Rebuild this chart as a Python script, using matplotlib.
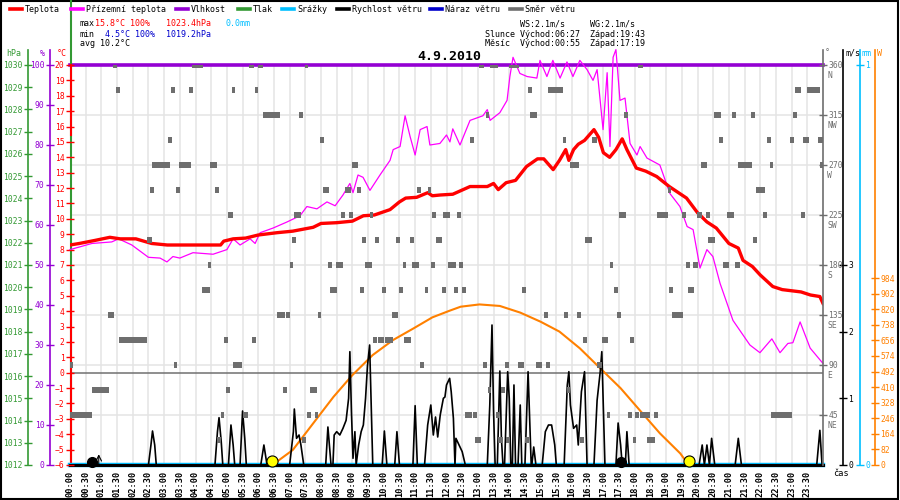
import numpy as np
import matplotlib
matplotlib.use("Agg")
import matplotlib.pyplot as plt
from matplotlib.lines import Line2D
from matplotlib.patches import Rectangle

MONO = "DejaVu Sans Mono"
plt.rcParams["font.family"] = MONO

date_label = "4.9.2010"

# teplota (°C)
temp_hours = [0.0, 0.3, 0.8, 1.27, 1.6, 2.1, 2.6, 3.1, 4.0, 4.8,
              4.9, 5.2, 5.6, 6.0, 6.6, 7.1, 7.75, 8.0, 8.5, 9.0,
              9.35, 9.7, 10.2, 10.5, 10.7, 11.05, 11.4, 11.55, 11.8, 12.2,
              12.75, 13.3, 13.5, 13.65, 13.9, 14.2, 14.55, 14.9, 15.1, 15.4,
              15.6, 15.8, 15.9, 16.05, 16.2, 16.4, 16.7, 16.85, 17.0, 17.2,
              17.4, 17.6, 17.75, 18.05, 18.35, 18.7, 19.1, 19.65, 20.0, 20.3,
              20.6, 21.0, 21.3, 21.45, 21.75, 22.0, 22.4, 22.7, 23.3, 23.6, 23.9, 24.0]
temp_c = [8.3, 8.4, 8.6, 8.8, 8.7, 8.7, 8.4, 8.3, 8.3, 8.3,
          8.55, 8.7, 8.75, 8.95, 9.1, 9.2, 9.45, 9.7, 9.75, 9.85,
          10.2, 10.25, 10.6, 11.1, 11.35, 11.4, 11.7, 11.5, 11.55, 11.6,
          12.1, 12.1, 12.3, 11.9, 12.35, 12.5, 13.4, 13.9, 13.9, 13.2,
          13.8, 14.5, 13.8, 14.5, 14.85, 15.1, 15.8, 15.3, 14.3, 14.0,
          14.5, 15.2, 14.5, 13.3, 13.1, 12.75, 12.1, 11.35, 10.4, 9.8,
          9.4, 8.4, 8.1, 7.3, 6.9, 6.35, 5.6, 5.4, 5.25, 5.05, 4.95, 4.5]

# přízemní teplota (°C)
ground_hours = [0.0, 0.7, 1.33, 1.55, 1.97, 2.5, 2.87, 3.09, 3.28, 3.5,
                3.92, 4.56, 5.0, 5.2, 5.42, 5.74, 5.9, 6.06, 6.47, 6.92,
                7.33, 7.55, 7.87, 8.19, 8.45, 8.7, 8.92, 9.02, 9.18, 9.34,
                9.56, 9.88, 10.2, 10.3, 10.52, 10.68, 10.84, 11.0, 11.16, 11.38,
                11.47, 11.79, 12.0, 12.11, 12.2, 12.43, 12.75, 13.16, 13.3, 13.39,
                13.7, 13.93, 14.02, 14.12, 14.34, 14.57, 14.88, 14.98, 15.2, 15.39,
                15.62, 15.84, 16.03, 16.25, 16.48, 16.67, 16.8, 16.99, 17.12, 17.21,
                17.31, 17.4, 17.53, 17.69, 17.85, 18.07, 18.17, 18.39, 18.8, 19.12,
                19.44, 19.67, 19.86, 20.08, 20.3, 20.49, 20.72, 21.13, 21.67, 21.99,
                22.37, 22.63, 22.88, 23.04, 23.27, 23.59, 24.0]
ground_c = [8.0, 8.4, 8.5, 8.7, 8.3, 7.5, 7.45, 7.2, 7.55, 7.45,
            7.8, 7.7, 8.0, 8.7, 8.3, 8.7, 8.4, 9.1, 9.4, 9.8,
            10.2, 10.8, 10.65, 11.1, 10.85, 11.55, 12.3, 11.7, 12.85, 12.7,
            11.85, 12.85, 13.8, 14.5, 14.7, 16.7, 15.35, 14.15, 15.8, 16.0,
            14.8, 14.9, 15.45, 15.0, 15.85, 14.8, 16.4, 16.7, 17.1, 16.4,
            16.9, 17.7, 19.25, 20.5, 19.45, 19.25, 19.15, 20.3, 19.25, 20.3,
            19.15, 20.2, 19.25, 20.3, 19.7, 19.0, 19.7, 15.8, 19.5, 14.7,
            20.5, 21.0, 17.7, 17.85, 14.9, 14.15, 14.7, 13.95, 13.5, 11.65,
            10.8, 9.5, 9.3, 6.8, 8.0, 7.55, 5.8, 3.4, 1.8, 1.3,
            2.2, 1.3, 1.9, 1.95, 3.3, 1.6, 0.6]

# vlhkost (%) a srážky (mm)
humidity_hours = [0.0, 24.0]
humidity_pct = [100, 100]
rain_hours = [0.0, 24.0]
rain_mm = [0.0, 0.0]

# rychlost větru (m/s)
wind_hours = [
    0.0, 2.50, 2.58, 2.63, 2.70, 2.75,
    4.62, 4.70, 4.75, 4.82, 4.87,
    5.05, 5.13, 5.20, 5.25,
    5.42, 5.50, 5.57, 5.62,
    6.08, 6.18, 6.28,
    7.00, 7.12, 7.15, 7.22, 7.30, 7.36, 7.45,
    8.15, 8.22, 8.32, 8.38, 8.42, 8.50, 8.60, 8.70, 8.80, 8.88, 8.92, 8.97,
    9.02, 9.08, 9.12, 9.20, 9.28, 9.35, 9.42, 9.48, 9.55, 9.60, 9.65,
    9.95, 10.02, 10.10,
    10.35, 10.42, 10.50,
    10.93, 11.00, 11.07,
    11.30, 11.40, 11.50, 11.58, 11.65, 11.72, 11.80, 11.90, 11.95,
    12.00, 12.10, 12.15, 12.22, 12.27, 12.30, 12.40, 12.50, 12.60,
    13.30, 13.38, 13.45, 13.50, 13.55,
    13.62, 13.70, 13.75, 13.80,
    13.85, 13.95, 14.00, 14.05,
    14.10, 14.15, 14.20,
    14.28, 14.35, 14.40,
    14.50, 14.60, 14.70,
    14.72, 14.78, 14.85,
    15.05, 15.15, 15.25, 15.35, 15.45, 15.50,
    15.75, 15.85, 15.90, 15.95, 16.05, 16.15, 16.20, 16.30, 16.40, 16.48,
    16.70, 16.80, 16.90, 16.95, 17.05,
    17.40, 17.47, 17.55, 17.60,
    17.70, 17.75, 17.82,
    20.05, 20.15, 20.22, 20.30, 20.38, 20.45, 20.55,
    21.20, 21.30, 21.40,
    23.80, 23.90, 23.97]
wind_ms = [
    0, 0, 0.30, 0.51, 0.30, 0,
    0, 0.50, 0.71, 0.35, 0,
    0, 0.60, 0.30, 0,
    0, 0.81, 0.40, 0,
    0, 0.30, 0,
    0, 0.50, 0.84, 0.40, 0.45, 0.30, 0,
    0, 0.57, 0, 0, 0.45, 0.50, 0.45, 0.55, 0.67, 1.00, 1.70, 0.80,
    0.10, 0.50, 0, 0.30, 0.50, 0.60, 1.00, 1.48, 1.80, 0.90, 0,
    0, 0.51, 0,
    0, 0.50, 0,
    0, 0.89, 0,
    0, 0.60, 0.90, 0.45, 0.72, 0.42, 0.75, 1.00, 1.02,
    1.20, 1.30, 1.10, 0.70, 0, 0.40, 0.30, 0.20, 0,
    0, 0.90, 2.10, 0.80, 0,
    0, 1.41, 0.40, 0,
    0, 1.40, 1.00, 0,
    0, 1.20, 0,
    0, 0.90, 0,
    0, 1.40, 0,
    0, 0.27, 0,
    0, 0.50, 0.60, 0.60, 0.30, 0,
    0, 1.20, 1.40, 0.90, 0.55, 0.60, 0.30, 1.10, 1.40, 0,
    0, 0.97, 1.40, 1.70, 0,
    0, 0.63, 0.30, 0,
    0, 0.50, 0,
    0, 0.30, 0, 0.30, 0, 0.40, 0,
    0, 0.40, 0,
    0, 0.52, 0]

# sluneční svit (W)
sun_hours = [6.45, 7.1, 7.75, 8.4, 9.0, 9.65, 10.3, 10.95, 11.55, 12.1, 12.45, 13.05,
             13.7, 14.35, 15.0, 15.6, 16.25, 16.9, 17.55, 18.15, 18.8, 19.45, 19.72]
sun_w = [0, 79, 219, 359, 473, 579, 658, 719, 777, 812, 833, 845,
         837, 802, 754, 702, 614, 509, 404, 290, 167, 61, 0]

# směr větru (°) - úseky (od, do) v hodinách pro každý směr
dir_levels = [360, 337.5, 315, 292.5, 270, 247.5, 225, 202.5,
              180, 157.5, 135, 112.5, 90, 67.5, 45, 22.5]
dir_spans = [
    [(1.37, 1.5), (3.9, 4.25), (5.7, 5.85), (6.0, 6.15), (7.5, 7.6), (13.05, 13.2),
     (13.4, 13.65), (14.0, 14.3), (18.1, 18.25)],
    [(1.47, 1.6), (3.22, 3.35), (3.8, 3.92), (5.15, 5.27), (5.9, 5.98), (14.6, 14.72),
     (15.25, 15.7), (23.1, 23.3), (23.5, 23.9)],
    [(6.15, 6.7), (7.3, 7.42), (13.25, 13.35), (14.65, 14.88), (17.65, 17.8),
     (20.52, 20.75), (21.1, 21.23), (21.7, 21.83), (23.05, 23.18)],
    [(3.12, 3.25), (7.98, 8.1), (12.75, 12.88), (15.7, 15.82), (16.65, 16.8), (20.7, 20.8),
     (22.2, 22.33), (22.95, 23.08), (23.35, 23.55), (23.85, 24.0)],
    [(2.6, 3.2), (3.47, 3.85), (4.47, 4.7), (9.0, 9.18), (15.95, 16.22), (20.1, 20.3),
     (21.3, 21.75), (22.3, 22.42), (23.92, 24.0)],
    [(2.55, 2.68), (3.38, 3.5), (4.63, 4.75), (8.05, 8.27), (8.75, 8.97), (9.15, 9.27),
     (11.05, 11.18), (11.4, 11.52), (19.05, 19.17), (21.85, 22.15)],
    [(5.05, 5.18), (7.15, 7.35), (8.65, 8.77), (8.9, 9.02), (9.55, 9.67), (11.55, 11.68),
     (11.9, 12.1), (12.35, 12.47), (17.5, 17.72), (18.7, 19.05), (19.5, 19.62),
     (19.98, 20.15), (20.27, 20.4), (20.95, 21.17), (22.1, 22.22), (23.3, 23.42)],
    [(2.47, 2.6), (7.08, 7.2), (9.3, 9.42), (9.72, 9.85), (10.4, 10.52), (10.85, 10.97),
     (11.67, 11.85), (16.4, 16.63), (20.35, 20.55), (21.77, 21.9)],
    [(4.4, 4.5), (7.0, 7.1), (8.23, 8.35), (8.48, 8.7), (9.4, 9.62), (10.6, 10.72),
     (10.9, 11.12), (11.5, 11.62), (12.05, 12.3), (12.4, 12.52), (17.2, 17.32),
     (19.63, 19.75), (19.87, 20.0), (20.8, 21.0), (21.2, 21.35)],
    [(4.2, 4.45), (8.3, 8.5), (9.25, 9.37), (9.95, 10.07), (10.5, 10.62), (11.3, 11.42),
     (11.85, 11.97), (12.25, 12.37), (12.5, 12.62), (14.4, 14.52), (17.35, 17.47),
     (19.1, 19.22), (19.7, 19.9)],
    [(1.2, 1.4), (6.6, 6.85), (6.9, 7.02), (7.9, 8.0), (10.25, 10.45), (15.1, 15.22),
     (15.75, 15.88), (16.17, 16.3), (17.45, 17.57), (19.2, 19.55)],
    [(1.55, 2.45), (4.9, 5.02), (5.8, 5.92), (9.65, 9.77), (9.82, 10.0), (10.05, 10.3),
     (10.65, 10.87), (16.35, 16.48), (16.95, 17.15), (17.85, 17.97)],
    [(0.0, 0.1), (3.3, 3.42), (5.2, 5.47), (11.15, 11.27), (13.15, 13.28), (13.85, 13.98),
     (14.28, 14.47), (14.85, 15.05), (15.17, 15.3), (16.8, 16.95)],
    [(0.7, 1.25), (4.97, 5.1), (6.8, 6.93), (7.65, 7.87), (13.32, 13.42), (13.75, 13.87),
     (15.85, 15.95)],
    [(0.0, 0.7), (4.8, 4.92), (5.5, 5.68), (7.55, 7.67), (7.8, 7.92), (12.6, 12.8),
     (12.85, 12.97), (13.57, 13.67), (17.1, 17.22), (17.77, 17.9), (18.02, 18.15),
     (18.17, 18.5), (18.6, 18.73), (22.35, 23.0)],
    [(4.7, 4.82), (7.4, 7.52), (12.9, 13.1), (13.65, 13.8), (13.9, 14.02), (14.5, 14.62),
     (16.25, 16.38), (17.95, 18.05), (18.4, 18.65)],
]
compass = {45: "NE", 90: "E", 135: "SE", 180: "S", 225: "SW", 270: "W", 315: "NW", 360: "N"}

sunrise, sunset = "06:27", "19:43"
moonrise, moonset = "00:55", "17:19"
stats_max = ("15.8°C 100%", "1023.4hPa", "0.0mm")
stats_min = ("4.5°C 100%", "1019.2hPa")
stats_avg = "10.2°C"
wind_ws, wind_wg = "2.1m/s", "2.1m/s"

C_TEMP = "#ff0000"
C_GROUND = "#ff00ff"
C_HUM = "#9400d3"
C_PRESS = "#339933"
C_RAIN = "#00bfff"
C_WIND = "#000000"
C_GUST = "#0000cc"
C_DIR = "#6e6e6e"
C_SUN = "#ff8000"


def to_h(s):
    hh, mm = s.split(":")
    return int(hh) + int(mm) / 60


W, H = 900, 500
fig = plt.figure(figsize=(9, 5), dpi=100)
fig.patch.set_facecolor("white")


def fx(px):
    return px / W


def fy(py):
    return 1 - py / H


rect = [fx(70), fy(465), (823 - 70) / W, (465 - 65) / H]
ax = fig.add_axes(rect)          # teplota
ax_hum = ax.twinx()
ax_p = ax.twinx()
ax_mm = ax.twinx()
ax_w = ax.twinx()
ax_ws = ax.twinx()
ax_dir = ax.twinx()
for z, a in enumerate([ax_hum, ax_p, ax_mm, ax_w, ax_ws, ax, ax_dir]):
    a.set_zorder(1 + z)
    a.patch.set_visible(False)
    for s in a.spines.values():
        s.set_visible(False)


def style(a, side, pos, color, lim, ticks, size=5.8):
    a.set_ylim(*lim)
    if side == "left":
        a.yaxis.tick_left()
    else:
        a.yaxis.tick_right()
    sp = a.spines[side]
    sp.set_visible(True)
    sp.set_position(("axes", pos))
    sp.set_color(color)
    sp.set_linewidth(1.2)
    sp.set_bounds(lim[0], lim[1] + (lim[1] - lim[0]) * 15 / 400)
    a.set_yticks(ticks)
    a.tick_params(axis="y", colors=color, direction="inout", length=6,
                  width=1, labelsize=size, pad=1)


span = 823 - 70
style(ax_p, "left", -42 / span, C_PRESS, (1012, 1030), range(1012, 1031))
style(ax_hum, "left", -20 / span, C_HUM, (0, 100), range(0, 101, 10))
style(ax_dir, "right", 1.0, C_DIR, (0, 360), range(45, 361, 45))
style(ax_ws, "right", 1 + 20 / span, C_WIND, (0, 6), range(0, 4))
style(ax_mm, "right", 1 + 37 / span, C_RAIN, (0, 1), [0, 1])
style(ax_w, "right", 1 + 52 / span, C_SUN, (0, 2105), range(0, 985, 82))

ax.set_ylim(-6, 20)
ax.set_yticks(range(-6, 21))
ax.tick_params(axis="y", colors=C_TEMP, direction="inout", length=6, width=1,
               labelsize=5.8, pad=1)
ax.spines["left"].set_visible(False)

# časová osa
ax.set_xlim(0, 24)
half_hours = np.arange(0, 24, 0.5)
ax.set_xticks(half_hours)
ax.set_xticklabels([f"{int(h):02d}:{int(round((h % 1) * 60)):02d}" for h in half_hours],
                   rotation=90, fontsize=6.2, fontweight="bold")
ax.tick_params(axis="x", length=0, pad=4)

# mřížka
for h in half_hours[1:]:
    ax_hum.axvline(h, color="#e4e4e4", lw=1.1, zorder=0)
for d in range(45, 360, 45):
    ax_hum.axhline(d / 3.6, color="#e4e4e4", lw=1.1, zorder=0)
ax_hum.axhline((0 + 6) / 26 * 100, color="#707070", lw=1.1, zorder=1)

# data
ax_hum.plot(humidity_hours, humidity_pct, color=C_HUM, lw=2.6, clip_on=False)
ax_mm.plot(rain_hours, rain_mm, color=C_RAIN, lw=3.2, clip_on=False)
ax_w.plot(sun_hours, sun_w, color=C_SUN, lw=1.5)
ax_ws.plot(wind_hours, wind_ms, color=C_WIND, lw=1.2, clip_on=False)
ax_ws.plot([0, 24], [0, 0], color=C_WIND, lw=2.2, clip_on=False)
ax.plot(ground_hours, ground_c, color=C_GROUND, lw=0.9, clip_on=False)
ax.plot(temp_hours, temp_c, color=C_TEMP, lw=2.4)
for deg, spans in zip(dir_levels, dir_spans, strict=True):
    ax_dir.broken_barh([(s, e - s) for s, e in spans], (deg - 2.7, 5.4),
                       facecolor=C_DIR, edgecolor="none")

# slunce a měsíc
for t in (sunrise, sunset):
    ax.plot(to_h(t), -5.75, "o", ms=8, mfc="#ffff00", mec="k", mew=0.8,
            clip_on=False, zorder=10)
ax.plot(to_h(moonrise) - 0.2, -5.8, "o", ms=7, color="k", clip_on=False, zorder=10)
ax.annotate("", xy=(to_h(moonrise), -5.3), xytext=(to_h(moonrise), -6),
            arrowprops=dict(arrowstyle="->", lw=0.8, color="k",
                            shrinkA=0, shrinkB=0), zorder=10)
ax.plot(to_h(moonset) + 0.24, -5.8, "o", ms=7, color="k", clip_on=False, zorder=10)

# kompasové směry
for d, lab in compass.items():
    ax_dir.annotate(lab, xy=(1, d), xycoords=("axes fraction", "data"),
                    xytext=(3, -7.5), textcoords="offset points", fontsize=5.8,
                    color=C_DIR, va="center", ha="left")

# levá svislá čára
fig.add_artist(Line2D([fx(71)] * 2, [fy(1), fy(465)], color=C_PRESS, lw=1.5))
fig.add_artist(Line2D([fx(71)] * 2, [fy(65), fy(135)], color=C_TEMP, lw=1.5))
fig.add_artist(Line2D([fx(71)] * 2, [fy(270), fy(465)], color=C_TEMP, lw=1.5))

# hlavičky os
heads = [("hPa", 14, C_PRESS, "center"), ("%", 42, C_HUM, "center"),
         ("°C", 62, C_TEMP, "center"), ("°", 827, C_DIR, "center"),
         ("m/s", 845, C_WIND, "left"), ("mm", 862, C_RAIN, "left"),
         ("W", 877, C_SUN, "left")]
for txt, x, c, ha in heads:
    fig.text(fx(x), fy(53), txt, color=c, fontsize=6, ha=ha, va="center")
fig.text(fx(833), fy(474), "čas", fontsize=6.2, ha="left", va="center")

# legenda
legend = [("Teplota", C_TEMP, 10), ("Přízemní teplota", C_GROUND, 71),
          ("Vlhkost", C_HUM, 176), ("Tlak", C_PRESS, 238), ("Srážky", C_RAIN, 282),
          ("Rychlost větru", C_WIND, 337), ("Náraz větru", C_GUST, 430),
          ("Směr větru", C_DIR, 510)]
for txt, c, x in legend:
    fig.add_artist(Line2D([fx(x), fx(x + 12)], [fy(9)] * 2, color=c, lw=2.6))
    fig.text(fx(x + 15), fy(9), txt, fontsize=6, va="center", ha="left")

# statistiky
fs = 6
fig.text(fx(80), fy(24), "max", fontsize=fs, va="center")
fig.text(fx(95), fy(24), stats_max[0], fontsize=fs, va="center", color=C_TEMP)
fig.text(fx(166), fy(24), stats_max[1], fontsize=fs, va="center", color=C_TEMP)
fig.text(fx(226), fy(24), stats_max[2], fontsize=fs, va="center", color=C_RAIN)
fig.text(fx(80), fy(34), "min", fontsize=fs, va="center")
fig.text(fx(105), fy(34), stats_min[0], fontsize=fs, va="center", color="#0000cc")
fig.text(fx(166), fy(34), stats_min[1], fontsize=fs, va="center", color="#0000cc")
fig.text(fx(80), fy(44), f"avg {stats_avg}", fontsize=fs, va="center")

fig.text(fx(520), fy(24), f"WS:{wind_ws}", fontsize=fs, va="center")
fig.text(fx(590), fy(24), f"WG:{wind_wg}", fontsize=fs, va="center")
fig.text(fx(485), fy(34), f"Slunce Východ:{sunrise}  Západ:{sunset}", fontsize=fs, va="center")
fig.text(fx(485), fy(44), f"Měsíc  Východ:{moonrise}  Západ:{moonset}", fontsize=fs, va="center")

fig.text(fx(449), fy(57), date_label, fontsize=9.5, fontweight="bold",
         ha="center", va="center")

fig.add_artist(Rectangle((0.001, 0.002), 0.997, 0.996, transform=fig.transFigure,
                         fill=False, edgecolor="k", lw=1.5))

fig.savefig("out.png", dpi=100)
